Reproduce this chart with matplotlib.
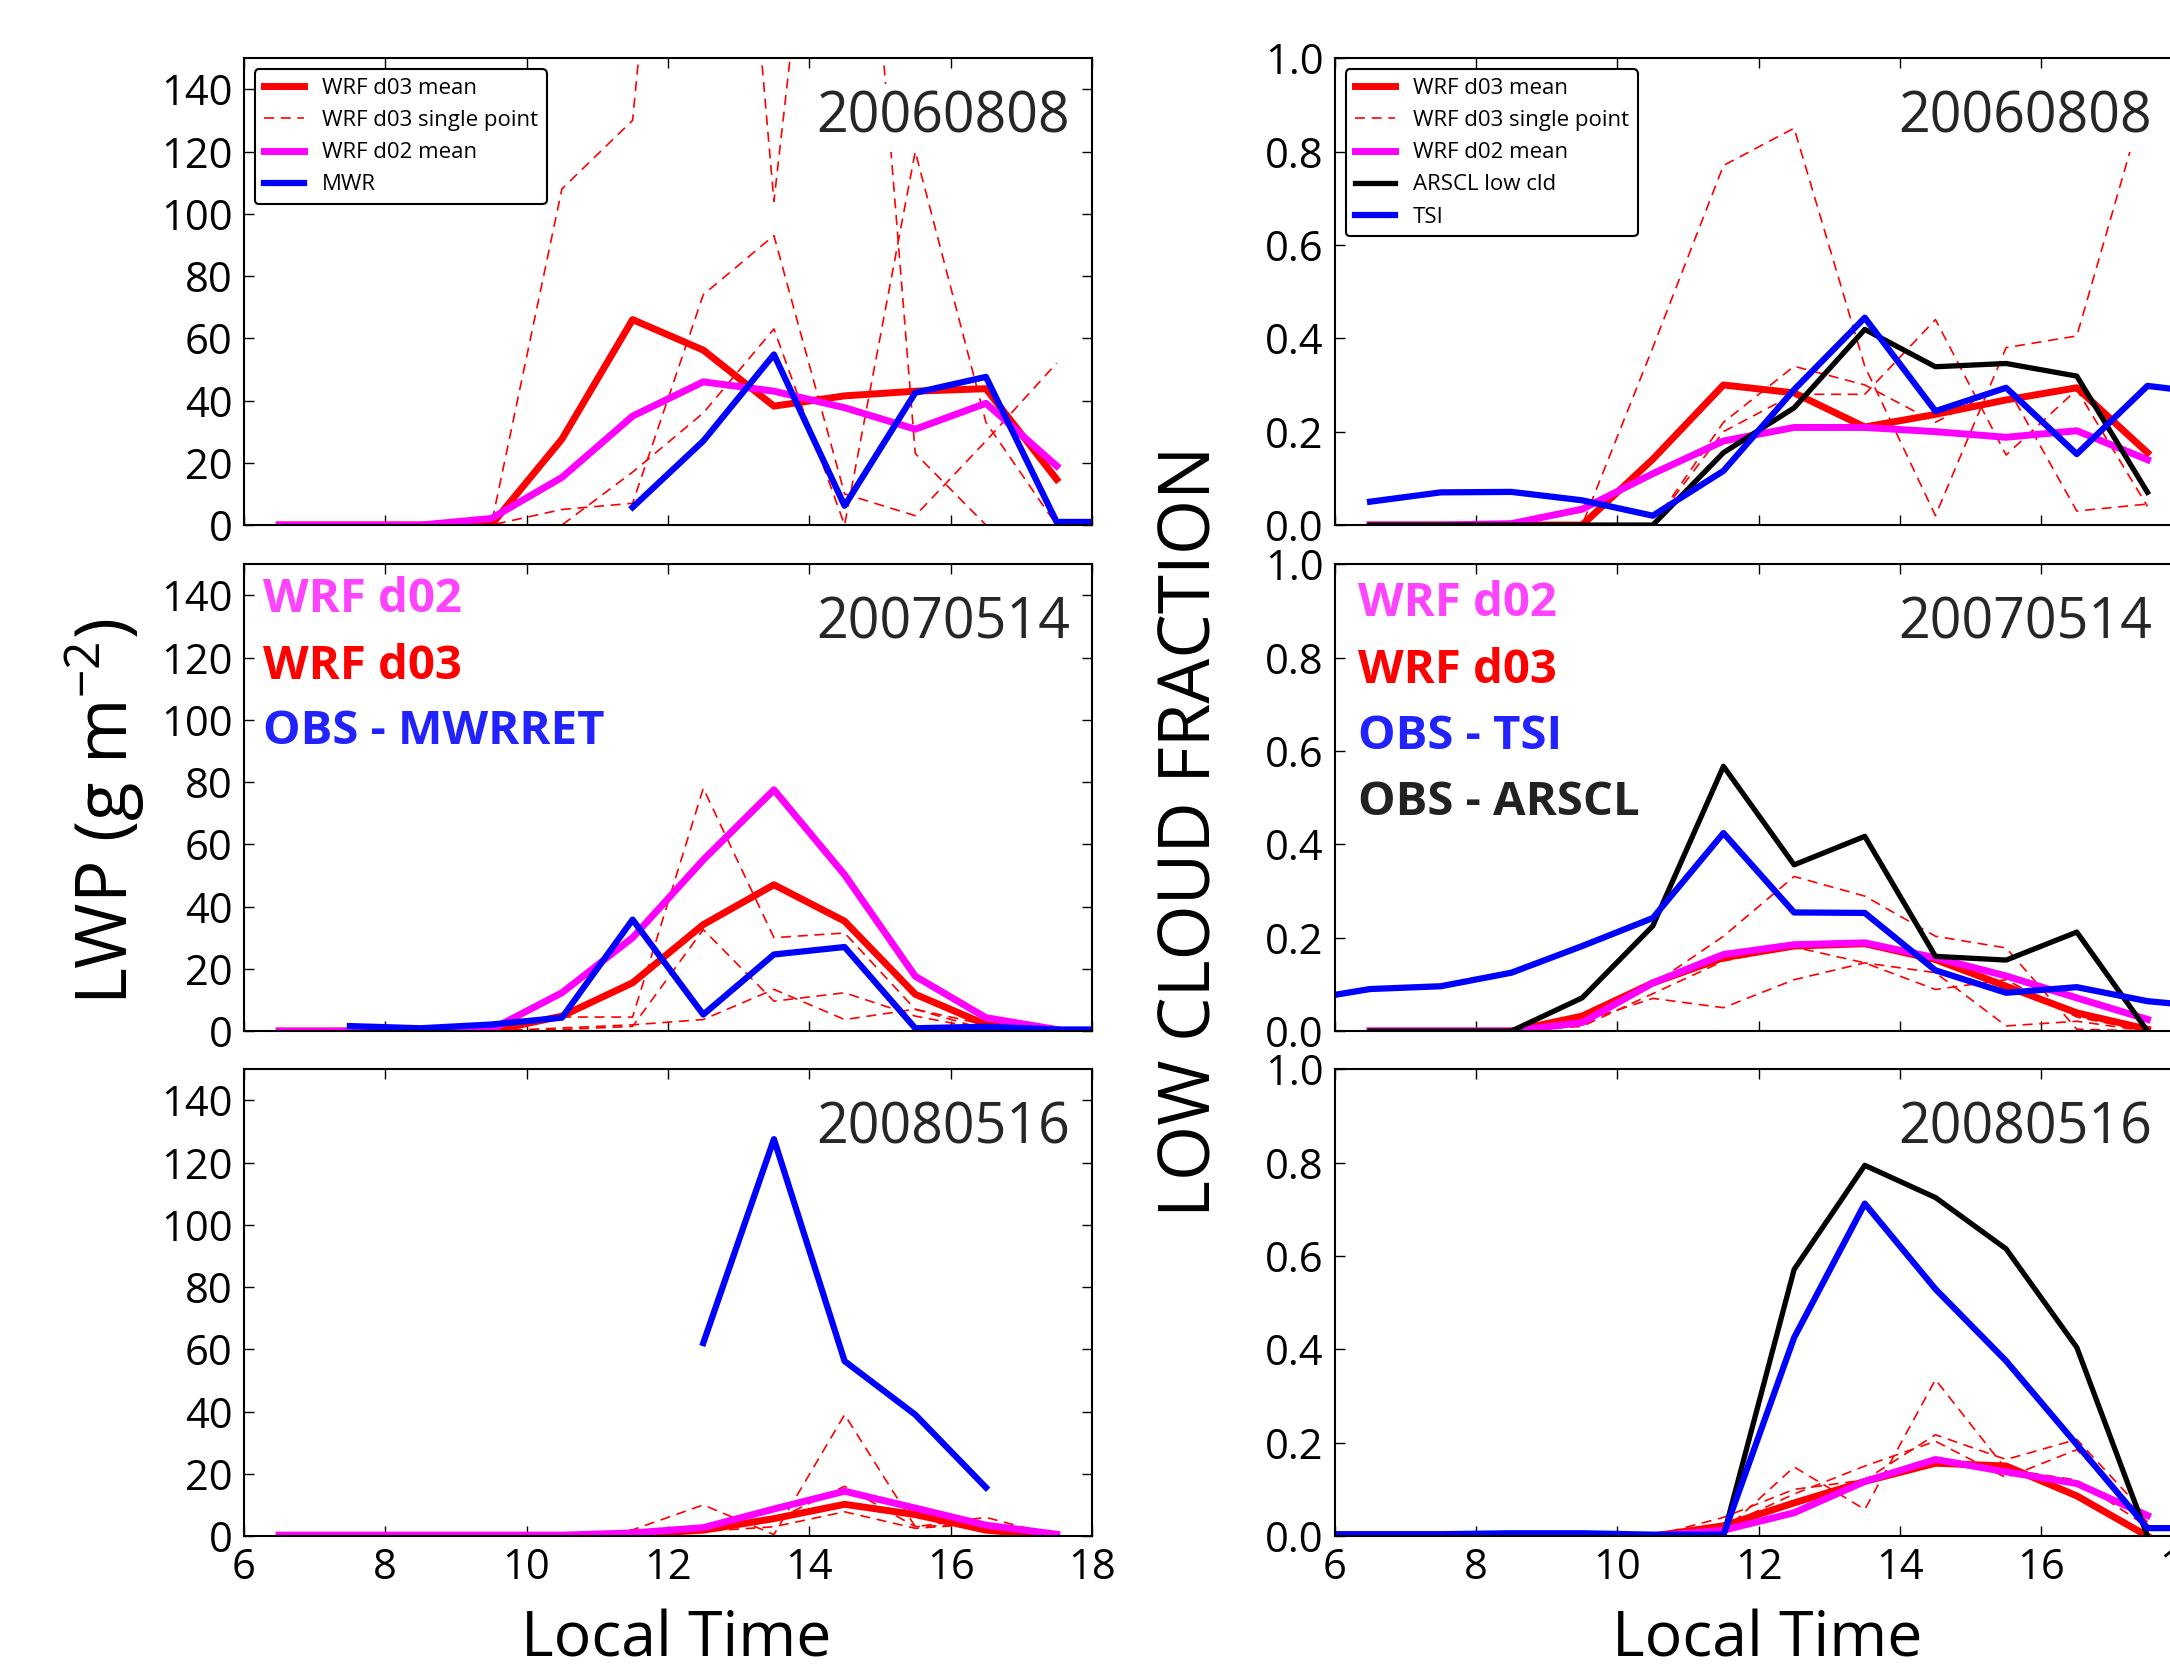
import matplotlib.pyplot as plt

plt.rcParams['font.family'] = ['Open Sans', 'DejaVu Sans']

hrs = [6.5, 7.5, 8.5, 9.5, 10.5, 11.5, 12.5, 13.5, 14.5, 15.5, 16.5, 17.5]

# ---- LWP, 20060808
lwp1_d03 = [0, 0, 0, 0, 27.6, 66, 56.2, 38.2, 41.5, 43, 43.8, 14.7]
lwp1_d02 = [0, 0, 0, 2.1, 15.3, 35, 46, 43, 37.7, 30.8, 39.1, 19]
lwp1_pts = [[0, 0, 0, 0, 108, 130, 365, 104, 305, 23, 0, 0],
            [0, 0, 0, 0, 5, 7, 74, 93, 10, 3, 27, 52],
            [0, 0, 0, 0, 0, 17, 36, 63, 0, 120, 33, 0]]
mwr1_hrs = [11.5, 12.5, 13.5, 14.5, 15.5, 16.5, 17.5, 18.5]
mwr1 = [5.7, 27, 54.8, 6.2, 42.5, 47.6, 1, 1]

# ---- LWP, 20070514
lwp2_d03 = [0, 0, 0, 0, 4.8, 15.5, 34.2, 47, 35.3, 11.8, 2.1, 0]
lwp2_d02 = [0, 0, 0, 0.5, 12.3, 30, 55, 77.5, 50.2, 17.6, 4.3, 0.5]
lwp2_pts = [[0, 0, 0, 0, 4.5, 4.5, 78, 30, 31.5, 7, 0.5, 0],
            [0, 0, 0, 0, 0.5, 1.5, 32.6, 9.6, 12.3, 4.8, 0.5, 0],
            [0, 0, 0, 0, 1, 2, 3.7, 13.4, 3.7, 7, 2, 0]]
mwr2_hrs = [7.5, 8.5, 9.5, 10.5, 11.5, 12.5, 13.5, 14.5, 15.5, 16.5, 17.5, 18.5]
mwr2 = [1.6, 0.9, 2.1, 4.3, 35.8, 5.3, 24.6, 27, 0.9, 1.4, 0.5, 0.5]

# ---- LWP, 20080516
lwp3_d03 = [0, 0, 0, 0, 0, 0.5, 1.9, 5.6, 10.2, 6.9, 1.9, 0]
lwp3_d02 = [0.3, 0.3, 0.3, 0.3, 0.3, 1, 2.7, 8.7, 14.4, 9, 3.5, 0.6]
lwp3_pts = [[0, 0, 0, 0, 0, 2, 10, 0.5, 39, 3, 6, 0],
            [0, 0, 0, 0, 0, 0.5, 2, 5, 16, 3, 4, 0],
            [0, 0, 0, 0, 0, 0.5, 1.5, 3, 7.8, 2.5, 4, 0.5]]
mwr3_hrs = [12.5, 13.5, 14.5, 15.5, 16.5]
mwr3 = [62, 127.5, 56.2, 39, 15.6]

# ---- low cloud fraction, 20060808
cf1_d03 = [0, 0, 0, 0, 0.141, 0.30, 0.283, 0.21, 0.237, 0.268, 0.294, 0.155]
cf1_d02 = [0, 0, 0.003, 0.034, 0.11, 0.18, 0.209, 0.209, 0.2, 0.188, 0.202, 0.14]
cf1_arscl = [0, 0, 0, 0, 0, 0.155, 0.251, 0.419, 0.339, 0.346, 0.319, 0.07]
cf1_pts = [[0, 0, 0, 0, 0.38, 0.77, 0.85, 0.34, 0.02, 0.38, 0.405, 0.93],
           [0, 0, 0, 0, 0, 0.20, 0.28, 0.28, 0.44, 0.15, 0.29, 0.04],
           [0, 0, 0, 0, 0, 0.22, 0.34, 0.30, 0.22, 0.30, 0.03, 0.045]]
tsi1_hrs = [6.5, 7.5, 8.5, 9.5, 10.5, 11.5, 12.5, 13.5, 14.5, 15.5, 16.5, 17.5, 18.5]
tsi1 = [0.05, 0.07, 0.071, 0.053, 0.02, 0.116, 0.29, 0.444, 0.244, 0.294, 0.152, 0.298, 0.28]

# ---- low cloud fraction, 20070514
cf2_d03 = [0, 0, 0, 0.032, 0.103, 0.157, 0.182, 0.187, 0.153, 0.096, 0.039, 0.004]
cf2_d02 = [0, 0, 0, 0.018, 0.103, 0.164, 0.185, 0.189, 0.157, 0.118, 0.071, 0.025]
cf2_arscl = [0, 0, 0, 0.071, 0.225, 0.567, 0.356, 0.417, 0.16, 0.152, 0.212, 0]
cf2_pts = [[0, 0, 0, 0.03, 0.10, 0.203, 0.331, 0.289, 0.203, 0.178, 0.004, 0],
           [0, 0, 0, 0.02, 0.07, 0.05, 0.11, 0.146, 0.125, 0.011, 0.021, 0],
           [0, 0, 0, 0.01, 0.08, 0.15, 0.18, 0.146, 0.089, 0.11, 0.03, 0]]
tsi2_hrs = [5.5, 6.5, 7.5, 8.5, 9.5, 10.5, 11.5, 12.5, 13.5, 14.5, 15.5, 16.5, 17.5, 18.5]
tsi2 = [0.065, 0.09, 0.096, 0.125, 0.182, 0.242, 0.424, 0.254, 0.253, 0.13, 0.082, 0.094, 0.064, 0.05]

# ---- low cloud fraction, 20080516
cf3_d03 = [0, 0, 0, 0, 0, 0.022, 0.071, 0.117, 0.156, 0.15, 0.086, 0]
cf3_d02 = [0, 0, 0, 0, 0, 0.0125, 0.05, 0.117, 0.164, 0.1375, 0.1125, 0.044]
cf3_arscl = [0, 0, 0, 0, 0, 0, 0.571, 0.794, 0.725, 0.615, 0.404, 0]
cf3_pts = [[0, 0, 0, 0, 0, 0.01, 0.148, 0.057, 0.335, 0.143, 0.12, 0.02],
           [0, 0, 0, 0, 0, 0.04, 0.10, 0.12, 0.217, 0.164, 0.207, 0.043],
           [0, 0, 0, 0, 0, 0.02, 0.09, 0.15, 0.203, 0.125, 0.185, 0.03]]
tsi3_hrs = [5.5, 6.5, 7.5, 8.5, 9.5, 10.5, 11.5, 12.5, 13.5, 14.5, 15.5, 16.5, 17.5, 18.5]
tsi3 = [0.004, 0.004, 0.004, 0.006, 0.006, 0.003, 0.003, 0.425, 0.712, 0.529, 0.375, 0.196, 0.017, 0.017]

dates = ['20060808', '20070514', '20080516']

fig = plt.figure(figsize=(21.7, 16.7), dpi=100)
bottoms = [0.6856, 0.3826, 0.0802]
W, H = 0.3908, 0.2796
left_axes = [fig.add_axes([0.1124, b, W, H]) for b in bottoms]
right_axes = [fig.add_axes([0.6151, b, W, H]) for b in bottoms]


def draw_panel(ax, d03, d02, pts, obs_x, obs, arscl=None):
    for k, p in enumerate(pts):
        ax.plot(hrs, p, color='red', lw=1.2, ls='--', dashes=(6, 4),
                label='WRF d03 single point' if k == 0 else None)
    ax.plot(hrs, d03, color='red', lw=5, label='WRF d03 mean')
    ax.plot(hrs, d02, color='magenta', lw=5, label='WRF d02 mean')
    if arscl is not None:
        ax.plot(hrs, arscl, color='black', lw=3.8, label='ARSCL low cld')
    ax.plot(obs_x, obs, color='blue', lw=4.5, label='obs')


lwp_sets = [(lwp1_d03, lwp1_d02, lwp1_pts, mwr1_hrs, mwr1),
            (lwp2_d03, lwp2_d02, lwp2_pts, mwr2_hrs, mwr2),
            (lwp3_d03, lwp3_d02, lwp3_pts, mwr3_hrs, mwr3)]
cf_sets = [(cf1_d03, cf1_d02, cf1_pts, tsi1_hrs, tsi1, cf1_arscl),
           (cf2_d03, cf2_d02, cf2_pts, tsi2_hrs, tsi2, cf2_arscl),
           (cf3_d03, cf3_d02, cf3_pts, tsi3_hrs, tsi3, cf3_arscl)]

for i in range(3):
    axl, axr = left_axes[i], right_axes[i]
    draw_panel(axl, *lwp_sets[i])
    draw_panel(axr, *cf_sets[i][:5], arscl=cf_sets[i][5])

    axl.set_ylim(0, 150)
    axl.set_yticks(range(0, 141, 20))
    axr.set_ylim(0, 1.0)
    axr.set_yticks([0.0, 0.2, 0.4, 0.6, 0.8, 1.0])
    axr.set_yticklabels(['0.0', '0.2', '0.4', '0.6', '0.8', '1.0'])
    for ax in (axl, axr):
        ax.set_xlim(6, 18)
        ax.set_xticks(range(6, 19, 2))
        ax.tick_params(direction='in', length=7, width=1, top=True, right=True,
                       labelsize=30, pad=8)
        for s in ax.spines.values():
            s.set_linewidth(1.5)
        if i < 2:
            ax.set_xticklabels([])
        else:
            ax.set_xlabel('Local Time', fontsize=45, labelpad=14)
            ax.xaxis.label.set_x(0.51)
    axl.text(0.974, 0.84, dates[i], transform=axl.transAxes, ha='right',
             va='baseline', fontsize=40, color='#262626', zorder=10,
             bbox=dict(facecolor='white', edgecolor='none'))
    axr.text(0.964, 0.84, dates[i], transform=axr.transAxes, ha='right',
             va='baseline', fontsize=40, color='#262626', zorder=10,
             bbox=dict(facecolor='white', edgecolor='none'))

# legends on the top row
h, l = left_axes[0].get_legend_handles_labels()
order = [1, 0, 2, 3]
leg = left_axes[0].legend([h[j] for j in order],
                          ['WRF d03 mean', 'WRF d03 single point', 'WRF d02 mean', 'MWR'],
                          loc='upper left', fontsize=16, labelspacing=0.5,
                          handlelength=1.8, fancybox=True, framealpha=1,
                          edgecolor='black')
leg.get_frame().set_linewidth(1.5)
leg.set_zorder(20)
h, l = right_axes[0].get_legend_handles_labels()
order = [1, 0, 2, 3, 4]
leg = right_axes[0].legend([h[j] for j in order],
                           ['WRF d03 mean', 'WRF d03 single point', 'WRF d02 mean',
                            'ARSCL low cld', 'TSI'],
                           loc='upper left', fontsize=16, labelspacing=0.5,
                           handlelength=1.8, fancybox=True, framealpha=1,
                           edgecolor='black')
leg.get_frame().set_linewidth(1.5)
leg.set_zorder(20)

# coloured labels in the middle row
ax = left_axes[1]
for txt, col, y in [('WRF d02', '#ff44ff', 0.897), ('WRF d03', '#ff0000', 0.754),
                    ('OBS - MWRRET', '#2222ff', 0.615)]:
    ax.text(0.022, y, txt, transform=ax.transAxes, color=col, fontsize=34,
            fontweight='bold', va='baseline', ha='left')
ax = right_axes[1]
for txt, col, y in [('WRF d02', '#ff44ff', 0.888), ('WRF d03', '#ff0000', 0.746),
                    ('OBS - TSI', '#2222ff', 0.604), ('OBS - ARSCL', '#222222', 0.463)]:
    ax.text(0.027, y, txt, transform=ax.transAxes, color=col, fontsize=34,
            fontweight='bold', va='baseline', ha='left')

fig.text(0.048, 0.514, 'LWP (g m$^{\\mathregular{-2}}$)', rotation=90,
         ha='center', va='center', fontsize=51)
fig.text(0.549, 0.502, 'LOW CLOUD FRACTION', rotation=90,
         ha='center', va='center', fontsize=51)

fig.savefig('out.png', dpi=100)
